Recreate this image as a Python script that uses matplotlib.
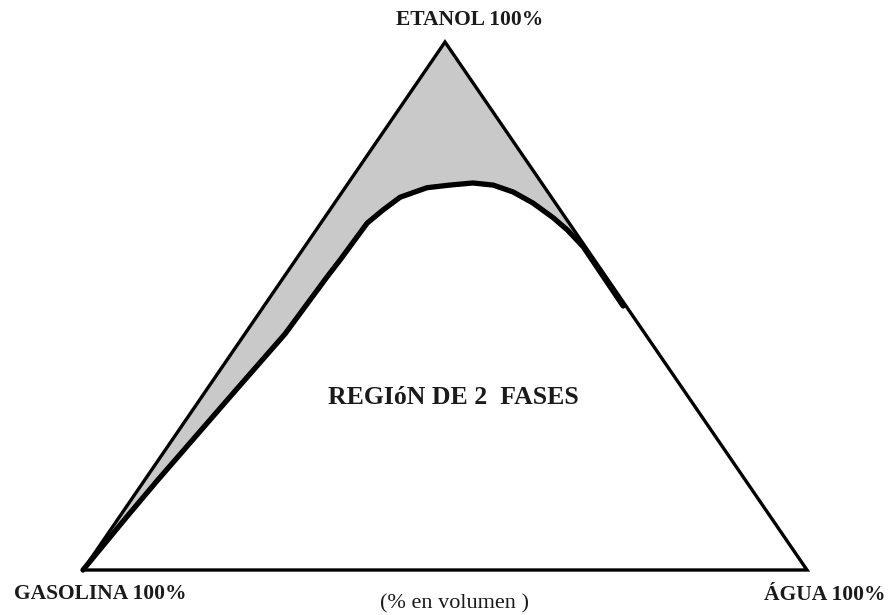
"""Ternary phase diagram: gasolina / etanol / agua (% en volumen)."""
import matplotlib
matplotlib.use("Agg")
import matplotlib.pyplot as plt
import numpy as np

# Boundary of the 2-phase region (% etanol, % agua)
curve_etanol = [0.0, 10.0, 17.0, 33.5, 44.7, 55.5, 58.7, 65.7, 68.2, 70.6, 72.4, 72.9,
                73.3, 72.9, 71.6, 69.5, 66.7, 64.4, 61.2, 50.0]
curve_agua = [0.0, 1.0, 1.8, 4.0, 5.55, 5.95, 6.15, 6.4, 7.35, 8.5, 11.3, 14.2,
              17.2, 20.2, 23.6, 27.4, 31.6, 34.7, 38.5, 49.6]

vertex_labels = ["GASOLINA 100%", "ETANOL 100%", "ÁGUA 100%"]
region_label = "REGIóN DE 2  FASES"
units_label = "(% en volumen )"


def tern_xy(etanol, agua):
    e = np.asarray(etanol) / 100.0
    a = np.asarray(agua) / 100.0
    return a + 0.5 * e, e


W, H = 891, 615
fig = plt.figure(figsize=(W / 100, H / 100), dpi=100)
# axes frame placed so the triangle sits where it does in the original
ax = fig.add_axes([83 / W, (H - 570) / H, 724 / W, 528 / H])
ax.set_xlim(0, 1)
ax.set_ylim(0, 1)
ax.axis("off")

cx, cy = tern_xy(curve_etanol, curve_agua)
tri_x, tri_y = tern_xy([0, 100, 0, 0], [0, 0, 100, 0])

# shaded band: left edge -> apex -> right edge -> back along the curve
ex, ey = tern_xy([100, curve_etanol[-1]], [0, 100 - curve_etanol[-1]])
poly_x = np.concatenate([[tri_x[0]], ex, cx[::-1]])
poly_y = np.concatenate([[tri_y[0]], ey, cy[::-1]])
ax.fill(poly_x, poly_y, color="#c9c9c9", lw=0, zorder=1)

ax.plot(tri_x, tri_y, color="black", lw=2.4, solid_joinstyle="miter", clip_on=False, zorder=3)
ax.plot(cx, cy, color="black", lw=3.8, solid_capstyle="round", solid_joinstyle="round",
        clip_on=False, zorder=2)

font = dict(family="Liberation Serif", weight="bold", color="#1a1a1a")
fig.text(470 / W, 1 - 20 / H, vertex_labels[1], ha="center", va="center", fontsize=15.5, **font)
fig.text(100 / W, 1 - 594 / H, vertex_labels[0], ha="center", va="center", fontsize=15.5, **font)
fig.text(825 / W, 1 - 595 / H, vertex_labels[2], ha="center", va="center", fontsize=15.5, **font)
fig.text(453 / W, 1 - 397 / H, region_label, ha="center", va="center", fontsize=18.5, **font)
fig.text(454 / W, 1 - 604 / H, units_label, ha="center", va="center", fontsize=16,
         family="Liberation Serif", color="#1a1a1a")

fig.savefig("out.png", dpi=100)
